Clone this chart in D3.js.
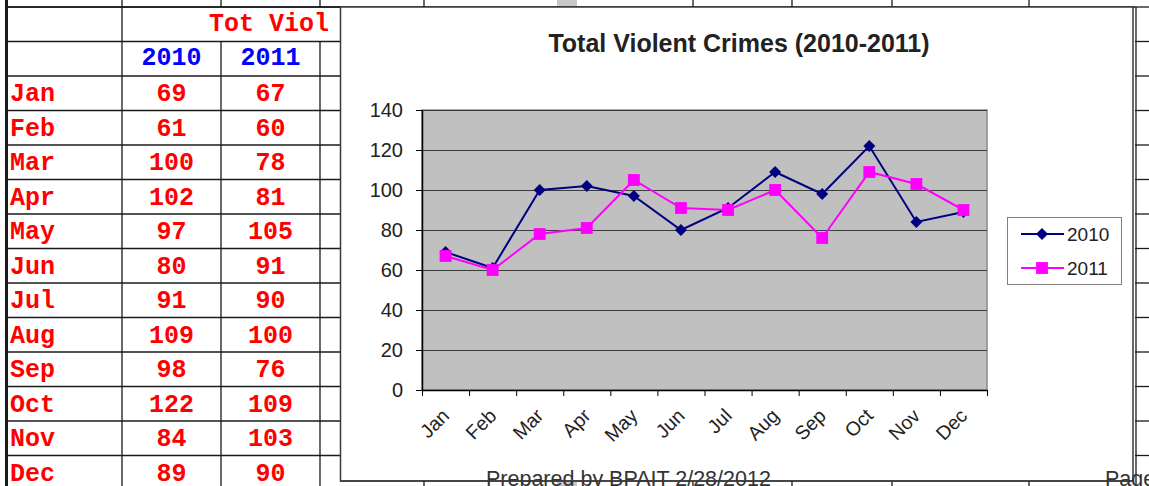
<!DOCTYPE html>
<html>
<head>
<meta charset="utf-8">
<script src="https://cdn.jsdelivr.net/npm/d3@7/dist/d3.min.js"></script>
<style>
  body { margin: 0; background: #fff; }
  #myDiv { width: 1149px; height: 486px; overflow: hidden; }
</style>
</head>
<body>
<div id="myDiv"></div>
<script>
// Data read from the sheet / chart
var months = ["Jan", "Feb", "Mar", "Apr", "May", "Jun", "Jul", "Aug", "Sep", "Oct", "Nov", "Dec"];
var viol2010 = [69, 61, 100, 102, 97, 80, 91, 109, 98, 122, 84, 89];
var viol2011 = [67, 60, 78, 81, 105, 91, 90, 100, 76, 109, 103, 90];
var seriesNames = ["2010", "2011"];
var yTicks = [0, 20, 40, 60, 80, 100, 120, 140];

var width = 1149;
var height = 486;
var monoFont = "'Courier New', 'Liberation Mono', monospace";
var sansFont = "Arial, 'Liberation Sans', sans-serif";

var svg = d3.select("#myDiv")
    .append("svg")
    .attr("width", width)
    .attr("height", height);

// ---------- spreadsheet grid behind the chart ----------
var rowH = 34.5;
function rowTop(i) { return 7 + rowH * i; }

var grid = svg.append("g").attr("stroke", "#1a1a1a").attr("stroke-width", 1.3);

// horizontal row lines, left table and right strip
for (var i = 0; i <= 14; i++) {
    grid.append("line").attr("x1", 8).attr("x2", 340).attr("y1", rowTop(i)).attr("y2", rowTop(i));
    grid.append("line").attr("x1", 1135).attr("x2", width).attr("y1", rowTop(i)).attr("y2", rowTop(i));
}
// top line across the page
grid.append("line").attr("x1", 8).attr("x2", 1135).attr("y1", 7).attr("y2", 7);

// vertical column lines of the table (header row 1 is merged)
grid.append("line").attr("x1", 122).attr("x2", 122).attr("y1", 0).attr("y2", height);
[221, 320].forEach(function (x) {
    grid.append("line").attr("x1", x).attr("x2", x).attr("y1", 0).attr("y2", 7);
    grid.append("line").attr("x1", x).attr("x2", x).attr("y1", rowTop(1)).attr("y2", height);
});
// column lines peeking above and below the chart
[424, 693, 792, 892, 1029].forEach(function (x) {
    grid.append("line").attr("x1", x).attr("x2", x).attr("y1", 0).attr("y2", 7);
    grid.append("line").attr("x1", x).attr("x2", x).attr("y1", 481).attr("y2", height);
});
grid.append("line").attr("x1", 1136).attr("x2", 1136).attr("y1", 7).attr("y2", height);

// thick left border
svg.append("rect").attr("x", 5).attr("y", 0).attr("width", 3).attr("height", height).attr("fill", "#1a1a1a");

// page break markers
svg.append("rect").attr("x", 557).attr("y", 0).attr("width", 20).attr("height", 6).attr("fill", "#c8c8c8");
svg.append("rect").attr("x", 557).attr("y", 482).attr("width", 20).attr("height", 4).attr("fill", "#c8c8c8");

// ---------- table text ----------
var colX = [171.5, 270.5];

svg.append("text")
    .attr("x", 209)
    .attr("y", 30.5)
    .attr("font-family", monoFont)
    .attr("font-weight", "bold")
    .attr("font-size", "25px")
    .attr("fill", "#ff0000")
    .text("Tot Viol");

svg.selectAll(".yearHead")
    .data(seriesNames)
    .enter().append("text")
    .attr("class", "yearHead")
    .attr("x", function (d, i) { return colX[i]; })
    .attr("y", 65.3)
    .attr("text-anchor", "middle")
    .attr("font-family", monoFont)
    .attr("font-weight", "bold")
    .attr("font-size", "25px")
    .attr("fill", "#0000ff")
    .text(function (d) { return d; });

var rows = svg.selectAll(".tableRow")
    .data(months)
    .enter().append("g")
    .attr("class", "tableRow")
    .attr("transform", function (d, i) { return "translate(0," + (rowTop(i + 2) + 25.4) + ")"; })
    .attr("font-family", monoFont)
    .attr("font-weight", "bold")
    .attr("font-size", "25px")
    .attr("fill", "#ff0000");

rows.append("text").attr("x", 10).text(function (d) { return d; });
rows.append("text").attr("x", colX[0]).attr("text-anchor", "middle")
    .text(function (d, i) { return viol2010[i]; });
rows.append("text").attr("x", colX[1]).attr("text-anchor", "middle")
    .text(function (d, i) { return viol2011[i]; });

// ---------- chart object ----------
svg.append("rect")
    .attr("x", 340.5).attr("y", 7)
    .attr("width", 1133 - 340.5).attr("height", 481 - 7)
    .attr("fill", "#fff")
    .attr("stroke", "#3a3a3a")
    .attr("stroke-width", 1.5);

svg.append("text")
    .attr("x", 739)
    .attr("y", 52)
    .attr("text-anchor", "middle")
    .attr("font-family", sansFont)
    .attr("font-weight", "bold")
    .attr("font-size", "25px")
    .attr("fill", "#222")
    .text("Total Violent Crimes (2010-2011)");

var plot = { left: 422, right: 987, top: 110, bottom: 390 };

var x = d3.scaleBand().domain(months).range([plot.left, plot.right]);
var xEdge = d3.scaleLinear().domain([0, months.length]).range([plot.left, plot.right]);
var y = d3.scaleLinear().domain([0, 140]).range([plot.bottom, plot.top]);

// plot area
svg.append("rect")
    .attr("x", plot.left).attr("y", plot.top)
    .attr("width", plot.right - plot.left).attr("height", plot.bottom - plot.top)
    .attr("fill", "#c0c0c0")
    .attr("stroke", "#8a8a8a")
    .attr("stroke-width", 1.5);

// gridlines
var gridY = svg.append("g")
    .attr("transform", "translate(" + plot.left + ",0)")
    .call(d3.axisLeft(y).tickValues(yTicks.filter(function (t) { return t > 0; }))
        .tickSize(-(plot.right - plot.left)).tickFormat(""));
gridY.select(".domain").remove();
gridY.selectAll("line").attr("stroke", "#3c3c3c").attr("stroke-width", 1);

// y axis
var yAxis = svg.append("g")
    .attr("transform", "translate(" + plot.left + ",0)")
    .call(d3.axisLeft(y).tickValues(yTicks).tickSize(6).tickSizeOuter(0).tickPadding(13));
yAxis.select(".domain").attr("stroke", "#000").attr("stroke-width", 1.5);
yAxis.selectAll("line").attr("stroke", "#000");
yAxis.selectAll("text")
    .attr("font-family", sansFont)
    .attr("font-size", "20px")
    .attr("fill", "#222");

// x axis ticks between categories
var xAxis = svg.append("g")
    .attr("transform", "translate(0," + plot.bottom + ")")
    .call(d3.axisBottom(xEdge).tickValues(d3.range(months.length + 1)).tickSize(6).tickSizeOuter(0).tickFormat(""));
xAxis.select(".domain").attr("stroke", "#000").attr("stroke-width", 1.5);
xAxis.selectAll("line").attr("stroke", "#000");

// rotated month labels
svg.selectAll(".xLabel")
    .data(months)
    .enter().append("text")
    .attr("class", "xLabel")
    .attr("transform", function (d) {
        return "translate(" + (x(d) + x.bandwidth() / 2 + 5) + "," + 417 + ") rotate(-45)";
    })
    .attr("text-anchor", "end")
    .attr("font-family", sansFont)
    .attr("font-size", "19.5px")
    .attr("fill", "#222")
    .text(function (d) { return d; });

// series lines
var line = d3.line()
    .x(function (d, i) { return x(months[i]) + x.bandwidth() / 2; })
    .y(function (d) { return y(d); });

var series = [
    { name: seriesNames[0], values: viol2010, color: "#000080", shape: d3.symbolSquare, size: 72, rot: 45 },
    { name: seriesNames[1], values: viol2011, color: "#ff00ff", shape: d3.symbolSquare, size: 140, rot: 0 }
];

series.forEach(function (s) {
    svg.append("path")
        .datum(s.values)
        .attr("d", line)
        .attr("fill", "none")
        .attr("stroke", s.color)
        .attr("stroke-width", 2);

    svg.selectAll(".pt" + s.name)
        .data(s.values)
        .enter().append("path")
        .attr("d", d3.symbol().type(s.shape).size(s.size))
        .attr("transform", function (d, i) {
            return "translate(" + (x(months[i]) + x.bandwidth() / 2) + "," + y(d) + ") rotate(" + s.rot + ")";
        })
        .attr("fill", s.color);
});

// legend
svg.append("rect")
    .attr("x", 1007.5).attr("y", 217.5)
    .attr("width", 114).attr("height", 67)
    .attr("fill", "#fff")
    .attr("stroke", "#808080")
    .attr("stroke-width", 1);

var legendItems = svg.selectAll(".legend-item")
    .data(series)
    .enter().append("g")
    .attr("class", "legend-item")
    .attr("transform", function (d, i) { return "translate(0," + (234 + i * 34) + ")"; });

legendItems.append("line")
    .attr("x1", 1021).attr("x2", 1064)
    .attr("stroke", function (d) { return d.color; })
    .attr("stroke-width", 2);

legendItems.append("path")
    .attr("d", function (d) { return d3.symbol().type(d.shape).size(d.size)(); })
    .attr("transform", function (d) { return "translate(1042,0) rotate(" + d.rot + ")"; })
    .attr("fill", function (d) { return d.color; });

legendItems.append("text")
    .attr("x", 1067)
    .attr("dy", "0.35em")
    .attr("font-family", sansFont)
    .attr("font-size", "19px")
    .attr("fill", "#222")
    .text(function (d) { return d.name; });

// page footer text overlapping the sheet
svg.append("text")
    .attr("x", 486).attr("y", 486)
    .attr("font-family", sansFont)
    .attr("font-size", "21.5px")
    .attr("fill", "#333")
    .text("Prepared by BPAIT 2/28/2012");

svg.append("text")
    .attr("x", 1105).attr("y", 486)
    .attr("font-family", sansFont)
    .attr("font-size", "21.5px")
    .attr("fill", "#333")
    .text("Page");

svg.append("line")
    .attr("x1", 340).attr("x2", 1133).attr("y1", 481).attr("y2", 481)
    .attr("stroke", "#3a3a3a").attr("stroke-width", 1.5);
</script>
</body>
</html>
